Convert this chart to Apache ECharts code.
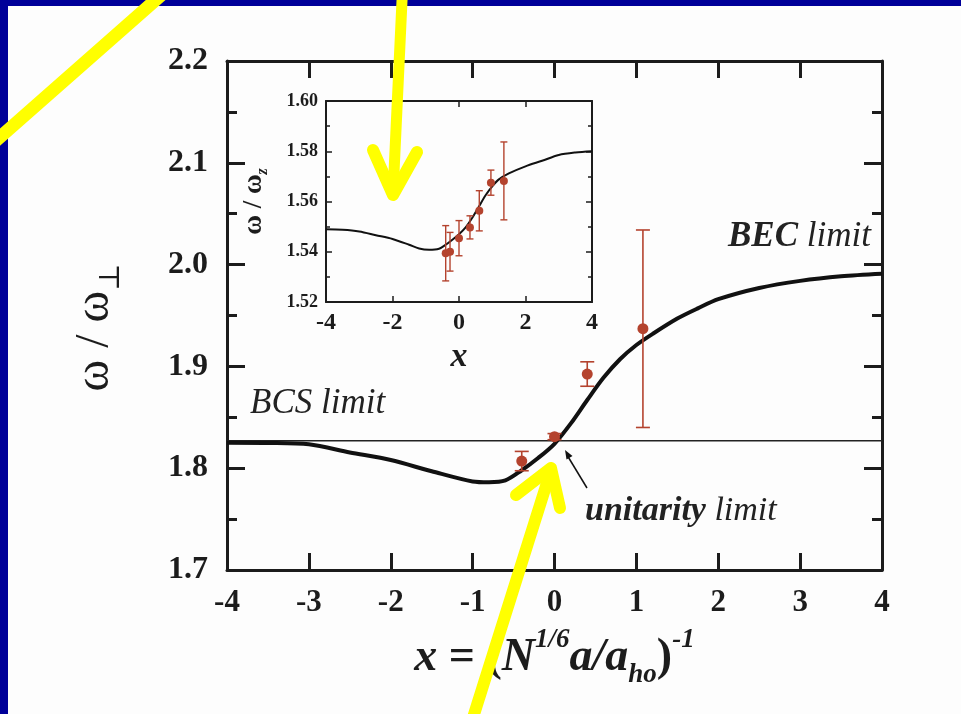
<!DOCTYPE html>
<html><head><meta charset="utf-8">
<script src="https://cdn.jsdelivr.net/npm/echarts@6/dist/echarts.min.js"></script>
<style>html,body{margin:0;padding:0;background:#fdfdfd;} #c{width:961px;height:714px;}</style>
</head><body><div id="c"></div>
<script>
// ---------- data ----------
const curveX = [-4, -3.5, -3, -2.5, -2, -1.5, -1.0, -0.8, -0.6, -0.4, -0.2, 0, 0.2, 0.4, 0.6, 0.8, 1.0, 1.2, 1.5, 1.75, 2.0, 2.5, 3.0, 3.5, 4.0];
const curveY = [1.825, 1.8248, 1.8235, 1.8155, 1.808, 1.797, 1.787, 1.7862, 1.788, 1.798, 1.810, 1.824, 1.844, 1.867, 1.889, 1.907, 1.921, 1.932, 1.947, 1.957, 1.966, 1.977, 1.984, 1.9885, 1.991];
const bcsX = [-4, 4];
const bcsY = [1.827, 1.827];
const pointX = [-0.40, 0.00, 0.40, 1.08];
const pointY = [1.807, 1.831, 1.8925, 1.937];
const pointErr = [0.0095, 0.003, 0.012, 0.097];

const insetCurveX = [-4, -3.5, -3, -2.5, -2, -1.5, -1.2, -0.9, -0.6, -0.4, -0.2, 0, 0.2, 0.4, 0.6, 0.8, 1.0, 1.2, 1.5, 2.0, 2.5, 3.0, 3.5, 4.0];
const insetCurveY = [1.549, 1.5488, 1.5481, 1.5466, 1.5451, 1.5428, 1.5413, 1.5408, 1.5412, 1.5428, 1.5448, 1.547, 1.5497, 1.5535, 1.558, 1.5625, 1.566, 1.5688, 1.5712, 1.574, 1.5762, 1.5785, 1.5795, 1.580];
const insetPointX = [-0.40, -0.27, 0.00, 0.33, 0.61, 0.96, 1.35];
const insetPointY = [1.5394, 1.5400, 1.5454, 1.5497, 1.5563, 1.5675, 1.5682];
const insetPointErr = [0.011, 0.0077, 0.007, 0.0046, 0.008, 0.005, 0.0155];

const mainXRange = [-4, 4, 1];
const mainYRange = [1.7, 2.2, 0.1];
const insetXRange = [-4, 4, 2];
const insetYRange = [1.52, 1.60, 0.02];

// ---------- style ----------
const AX = '#1c1c1c';
const PT = '#b4432e';
const SERIF = '"Liberation Serif", "Times New Roman", "DejaVu Serif", serif';
const YEL = '#ffff00';

function zip(a, b, c) { return a.map((v, i) => c ? [v, b[i], c[i]] : [v, b[i]]); }

function errRender(capHalf, r, lw) {
  return function (params, api) {
    const x = api.value(0), y = api.value(1), e = api.value(2);
    const c = api.coord([x, y]), t = api.coord([x, y + e]), b = api.coord([x, y - e]);
    const st = { stroke: PT, lineWidth: lw };
    return { type: 'group', children: [
      { type: 'line', shape: { x1: t[0], y1: t[1], x2: b[0], y2: b[1] }, style: st },
      { type: 'line', shape: { x1: t[0] - capHalf, y1: t[1], x2: t[0] + capHalf, y2: t[1] }, style: st },
      { type: 'line', shape: { x1: b[0] - capHalf, y1: b[1], x2: b[0] + capHalf, y2: b[1] }, style: st },
      { type: 'circle', shape: { cx: c[0], cy: c[1], r: r }, style: { fill: PT } }
    ]};
  };
}

function xAx(grid, range, pos, opts) {
  const main = grid === 0;
  return Object.assign({
    gridIndex: grid, type: 'value', min: range[0], max: range[1], interval: range[2], position: pos,
    axisLine: { show: true, onZero: false, lineStyle: { color: AX, width: main ? 3 : 2 } },
    axisTick: { show: true, inside: true, length: main ? 17 : 6, lineStyle: { color: AX, width: main ? 3 : 1.5 } },
    axisLabel: { show: false },
    splitLine: { show: false }
  }, opts || {});
}
function yAx(grid, range, pos, opts) {
  const main = grid === 0;
  return Object.assign({
    gridIndex: grid, type: 'value', min: range[0], max: range[1], interval: range[2], position: pos,
    axisLine: { show: true, onZero: false, lineStyle: { color: AX, width: main ? 3 : 2 } },
    axisTick: { show: true, inside: true, length: main ? 18 : 6, lineStyle: { color: AX, width: main ? 3 : 1.5 } },
    minorTick: { show: true, splitNumber: 2, length: main ? 10 : 4, lineStyle: { color: AX, width: main ? 3 : 1.5 } },
    axisLabel: { show: false },
    splitLine: { show: false }
  }, opts || {});
}

const chart = echarts.init(document.getElementById('c'), null, { renderer: 'canvas' });

const option = {
  backgroundColor: '#fdfdfd',
  animation: false,
  grid: [
    { left: 227, top: 61, width: 655, height: 509, show: false },
    { left: 326, top: 101, width: 266, height: 201, show: false }
  ],
  xAxis: [
    xAx(0, mainXRange, 'bottom', {
      axisLabel: { show: true, margin: 17, color: AX, fontSize: 31, fontWeight: 'bold', fontFamily: SERIF },
      name: '{i|x }{n|= (}{i|N}{sup|1/6}{i|a/a}{sub|ho}{n|)}{sup|-1}',
      nameLocation: 'middle', nameGap: 57,
      nameTextStyle: { color: AX, rich: {
        i: { fontSize: 46, fontStyle: 'italic', fontWeight: 'bold', fontFamily: SERIF, color: AX, lineHeight: 62 },
        n: { fontSize: 46, fontWeight: 'bold', fontFamily: SERIF, color: AX, lineHeight: 62 },
        sup: { fontSize: 27, fontStyle: 'italic', fontWeight: 'bold', fontFamily: SERIF, color: AX, lineHeight: 27, verticalAlign: 'top' },
        sub: { fontSize: 27, fontStyle: 'italic', fontWeight: 'bold', fontFamily: SERIF, color: AX, lineHeight: 27, verticalAlign: 'bottom' }
      } }
    }),
    xAx(0, mainXRange, 'top'),
    xAx(1, insetXRange, 'bottom', {
      axisLabel: { show: true, margin: 9, color: AX, fontSize: 24, fontWeight: 'bold', fontFamily: SERIF },
      name: 'x', nameLocation: 'middle', nameGap: 38,
      nameTextStyle: { color: AX, fontSize: 34, fontStyle: 'italic', fontWeight: 'bold', fontFamily: SERIF }
    }),
    xAx(1, insetXRange, 'top')
  ],
  yAxis: [
    yAx(0, mainYRange, 'left', {
      axisLabel: { show: true, margin: 19, color: AX, fontSize: 32, fontWeight: 'bold', fontFamily: SERIF, formatter: v => v.toFixed(1) },
      name: '{w|ω / ω}{s|⊥}', nameLocation: 'middle', nameRotate: 90, nameGap: 101,
      nameTextStyle: { color: AX, padding: [0, 24, 0, 0], rich: {
        w: { fontSize: 48, fontFamily: SERIF, color: AX, lineHeight: 62 },
        s: { fontSize: 29, fontFamily: SERIF, color: AX, lineHeight: 29, verticalAlign: 'bottom' }
      } }
    }),
    yAx(0, mainYRange, 'right'),
    yAx(1, insetYRange, 'left', {
      axisLabel: { show: true, margin: 8, color: AX, fontSize: 18, fontWeight: 'bold', fontFamily: SERIF, formatter: v => v.toFixed(2) },
      name: '{w|ω / ω}{s|z}', nameLocation: 'middle', nameRotate: 90, nameGap: 55,
      nameTextStyle: { color: AX, rich: {
        w: { fontSize: 27, fontWeight: 'bold', fontFamily: SERIF, color: AX, lineHeight: 34 },
        s: { fontSize: 16, fontWeight: 'bold', fontStyle: 'italic', fontFamily: SERIF, color: AX, lineHeight: 16, verticalAlign: 'bottom' }
      } }
    }),
    yAx(1, insetYRange, 'right')
  ],
  series: [
    { type: 'line', name: 'BCS', xAxisIndex: 0, yAxisIndex: 0, data: zip(bcsX, bcsY), showSymbol: false,
      lineStyle: { color: '#222', width: 1.6 }, z: 3 },
    { type: 'line', name: 'theory', xAxisIndex: 0, yAxisIndex: 0, data: zip(curveX, curveY), showSymbol: false, smooth: 0.3,
      lineStyle: { color: '#111', width: 4 }, z: 4 },
    { type: 'custom', name: 'exp', xAxisIndex: 0, yAxisIndex: 0, data: zip(pointX, pointY, pointErr),
      encode: { x: 0, y: 1 }, renderItem: errRender(7, 5.5, 1.6), z: 5 },
    { type: 'line', name: 'inset theory', xAxisIndex: 2, yAxisIndex: 2, data: zip(insetCurveX, insetCurveY), showSymbol: false, smooth: 0.3,
      lineStyle: { color: '#111', width: 2 }, z: 4 },
    { type: 'custom', name: 'inset exp', xAxisIndex: 2, yAxisIndex: 2, data: zip(insetPointX, insetPointY, insetPointErr),
      encode: { x: 0, y: 1 }, renderItem: errRender(3.5, 4, 1.4), z: 5 }
  ],
  graphic: [
    { type: 'rect', shape: { x: 0, y: 0, width: 961, height: 6 }, style: { fill: '#000099' }, z: 1 },
    { type: 'rect', shape: { x: 0, y: 0, width: 8, height: 714 }, style: { fill: '#000099' }, z: 1 },
    { type: 'text', x: 250, y: 404, style: { text: '{b|BCS }{l|limit}', align: 'left', verticalAlign: 'middle',
      rich: { b: { font: 'italic 35px ' + SERIF, fill: '#222' }, l: { font: 'italic 35px ' + SERIF, fill: '#222' } } }, z: 10 },
    { type: 'text', x: 728, y: 237, style: { text: '{b|BEC }{l|limit}', align: 'left', verticalAlign: 'middle',
      rich: { b: { font: 'italic bold 35px ' + SERIF, fill: '#222' }, l: { font: 'italic 35px ' + SERIF, fill: '#222' } } }, z: 10 },
    { type: 'text', x: 585, y: 511, style: { text: '{b|unitarity }{l|limit}', align: 'left', verticalAlign: 'middle',
      rich: { b: { font: 'italic bold 34px ' + SERIF, fill: '#222' }, l: { font: 'italic 34px ' + SERIF, fill: '#222' } } }, z: 10 },
    { type: 'line', shape: { x1: 587, y1: 488, x2: 567, y2: 455 }, style: { stroke: '#111', lineWidth: 1.5 }, z: 10 },
    { type: 'polygon', shape: { points: [[565, 450], [572.5, 456], [566.5, 459.5]] }, style: { fill: '#111' }, z: 10 },
    // yellow overlay arrows
    { type: 'line', shape: { x1: 167, y1: -10, x2: -10, y2: 146 }, style: { stroke: YEL, lineWidth: 13, lineCap: 'round' }, z: 100 },
    { type: 'line', shape: { x1: 402.5, y1: -10, x2: 393, y2: 194 }, style: { stroke: YEL, lineWidth: 11, lineCap: 'round' }, z: 100 },
    { type: 'polyline', shape: { points: [[373, 150], [393, 195], [417, 152]] }, style: { stroke: YEL, fill: null, lineWidth: 12, lineCap: 'round', lineJoin: 'round' }, z: 100 },
    { type: 'line', shape: { x1: 471, y1: 724, x2: 551, y2: 470 }, style: { stroke: YEL, lineWidth: 12, lineCap: 'round' }, z: 100 },
    { type: 'polyline', shape: { points: [[516, 495], [551, 468], [560, 508]] }, style: { stroke: YEL, fill: null, lineWidth: 12, lineCap: 'round', lineJoin: 'round' }, z: 100 }
  ]
};
chart.setOption(option);
</script>
</body></html>
